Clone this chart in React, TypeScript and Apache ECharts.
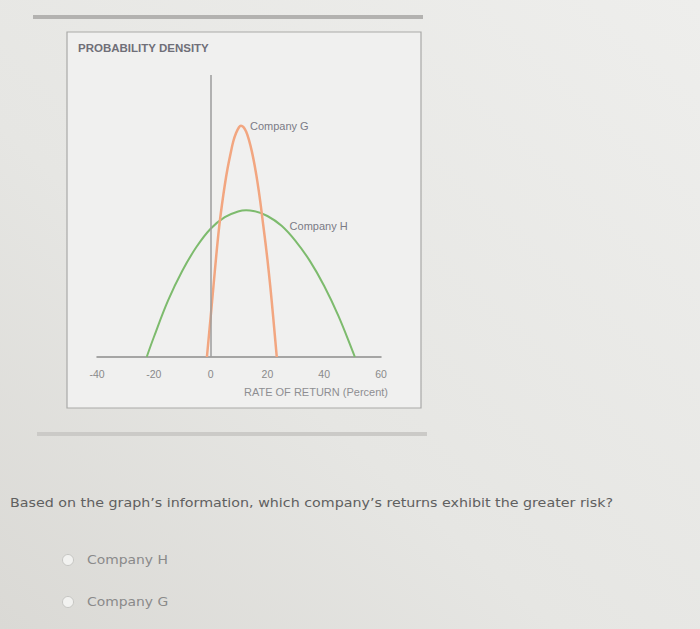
import React, { useEffect, useRef } from "react";
import * as echarts from "echarts";

// Rate of return (percent) vs. probability density (relative units, 0-100 of axis height)
const companyG: [number, number][] = [
  [-1.3, 0], [0, 14], [1, 25], [2, 36], [3, 46], [4, 54], [5, 61], [6, 67], [7, 72],
  [8, 76.5], [9, 79.5], [10, 81.5], [10.7, 82], [11.5, 81.6], [12.5, 80], [13.5, 77],
  [14.5, 73], [15.5, 68], [16.5, 62], [17.5, 55], [18.5, 47], [19.5, 39], [20.5, 30],
  [21.5, 20], [22.5, 9], [23.3, 0],
];
const companyH: [number, number][] = [
  [-22.5, 0], [-20, 7], [-15, 20], [-10, 30.5], [-5, 39], [0, 45.5], [5, 49.6],
  [10, 51.7], [12.5, 52], [15, 51.8], [20, 50], [25, 46.5], [30, 41], [35, 34],
  [40, 25.2], [45, 14.6], [50, 2.1], [50.8, 0],
];
const xTicks = { min: -40, max: 60, interval: 20 };
const labelG = { name: "Company G", at: [10.7, 82] };
const labelH = { name: "Company H", at: [25, 46.5] };
const yTitle = "PROBABILITY DENSITY";
const xTitle = "RATE OF RETURN (Percent)";
const question =
  "Based on the graph\u2019s information, which company\u2019s returns exhibit the greater risk?";
const choices = ["Company H", "Company G"];

export default function App() {
  const ref = useRef<HTMLDivElement>(null);
  useEffect(() => {
    if (!ref.current) return;
    const chart = echarts.init(ref.current, undefined, { renderer: "svg" });
    const tickFont = "Liberation Sans, Arial, sans-serif";
    chart.setOption({
      animation: false,
      backgroundColor: new echarts.graphic.LinearGradient(1, 0, 0, 1, [
        { offset: 0, color: "#eeeeec" },
        { offset: 0.6, color: "#e6e6e3" },
        { offset: 1, color: "#dad9d5" },
      ]),
      grid: { left: 97, right: 319, top: 75, bottom: 272 },
      xAxis: {
        type: "value",
        min: xTicks.min,
        max: xTicks.max,
        interval: xTicks.interval,
        axisLine: { onZero: false, lineStyle: { color: "#8c8c8c", width: 1.5 } },
        axisTick: { show: false },
        splitLine: { show: false },
        axisLabel: {
          color: "#8a8a8a",
          fontSize: 10.5,
          fontFamily: tickFont,
          margin: 11,
        },
      },
      yAxis: {
        type: "value",
        min: 0,
        max: 100,
        show: false,
      },
      graphic: [
        { type: "rect", z: -10, shape: { x: 33, y: 15, width: 390, height: 4 }, style: { fill: "#b3b2b0" } },
        {
          type: "rect",
          z: -10,
          shape: { x: 67, y: 32, width: 354, height: 376 },
          style: { fill: "#f0f0ef", stroke: "#a9a9a7", lineWidth: 1.2 },
        },
        {
          type: "text",
          x: 78,
          y: 48,
          style: {
            text: yTitle,
            fill: "#6f6f78",
            font: "bold 11.5px Liberation Sans, Arial, sans-serif",
            verticalAlign: "middle",
          },
        },
        {
          type: "text",
          x: 388,
          y: 392,
          style: {
            text: xTitle,
            fill: "#8e8e92",
            font: "11px Liberation Sans, Arial, sans-serif",
            align: "right",
            verticalAlign: "middle",
          },
        },
        { type: "rect", z: -10, shape: { x: 37, y: 432, width: 390, height: 4 }, style: { fill: "#cbcac7" } },
        {
          type: "text",
          x: 10,
          y: 503,
          scaleX: 1.16,
          style: {
            text: question,
            fill: "#606060",
            font: "12.3px DejaVu Sans, Verdana, sans-serif",
            verticalAlign: "middle",
          },
        },
        ...choices.flatMap((c, i) => [
          {
            type: "circle",
            shape: { cx: 68, cy: 560 + i * 42, r: 5.5 },
            style: { fill: "#f2f2f0", stroke: "#c6c6c3", lineWidth: 1 },
          },
          {
            type: "text",
            x: 87,
            y: 560 + i * 42,
            scaleX: 1.13,
            style: {
              text: c,
              fill: "#8a8a8a",
              font: "12.3px DejaVu Sans, Verdana, sans-serif",
              verticalAlign: "middle",
            },
          },
        ]),
      ],
      series: [
        {
          type: "line",
          name: "Company H",
          data: companyH,
          smooth: 0.4,
          showSymbol: false,
          lineStyle: { color: "#7dbb6d", width: 2 },
          z: 3,
          markPoint: {
            symbol: "circle",
            symbolSize: 0,
            silent: true,
            data: [{ coord: labelH.at }],
            label: {
              show: true,
              formatter: labelH.name,
              position: "right",
              distance: 8,
              color: "#7b7b86",
              fontSize: 11,
              fontFamily: tickFont,
            },
          },
        },
        {
          type: "line",
          name: "Company G",
          data: companyG,
          smooth: 0.4,
          showSymbol: false,
          lineStyle: { color: "#f2a680", width: 2.5 },
          z: 4,
          markLine: {
            silent: true,
            symbol: "none",
            label: { show: false },
            lineStyle: { color: "#9d9d9d", width: 1.5, type: "solid" },
            data: [{ xAxis: 0 }],
          },
          markPoint: {
            symbol: "circle",
            symbolSize: 0,
            silent: true,
            data: [{ coord: labelG.at }],
            label: {
              show: true,
              formatter: labelG.name,
              position: "right",
              distance: 9,
              color: "#7b7b86",
              fontSize: 11,
              fontFamily: tickFont,
            },
          },
        },
      ],
    });
    return () => chart.dispose();
  }, []);
  return (
    <div
      ref={ref}
      style={{ position: "fixed", left: 0, top: 0, width: 700, height: 629 }}
    />
  );
}
